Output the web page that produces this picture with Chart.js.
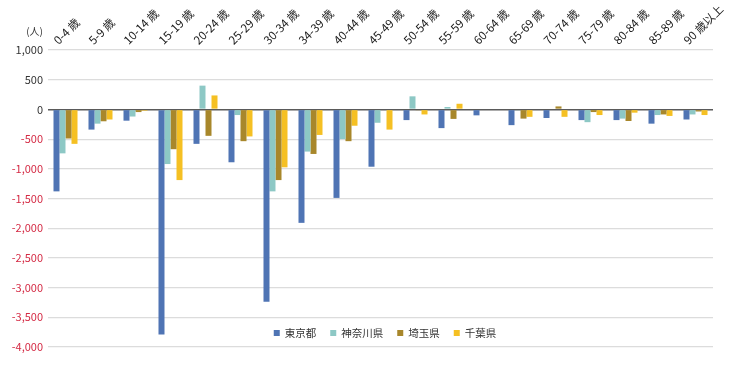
<!DOCTYPE html>
<html>
<head>
<meta charset="utf-8">
<script src="https://cdn.jsdelivr.net/npm/chart.js@4/dist/chart.umd.min.js"></script>
<style>
  body { margin: 0; background: #fff; }
  #wrap { width: 750px; height: 372px; }
</style>
</head>
<body>
<div id="wrap"><canvas id="grafico" width="750" height="372"></canvas></div>
<script>
// categorias (edad)
var edades = ["0-4 歳", "5-9 歳", "10-14 歳", "15-19 歳", "20-24 歳", "25-29 歳", "30-34 歳", "34-39 歳", "40-44 歳", "45-49 歳",
    "50-54 歳", "55-59 歳", "60-64 歳", "65-69 歳", "70-74 歳", "75-79 歳", "80-84 歳", "85-89 歳", "90 歳以上"];

var tokyo = [-1380, -340, -190, -3790, -580, -890, -3240, -1910, -1490, -965, -180, -315, -100, -265, -145, -180, -180, -240, -170];
var kanagawa = [-740, -240, -120, -920, 400, -95, -1380, -710, -500, -225, 220, 40, 0, -10, 0, -215, -155, -95, -85];
var saitama = [-490, -200, -45, -670, -445, -535, -1190, -750, -535, 0, -15, -160, 0, -155, 50, -45, -195, -85, -35];
var chiba = [-580, -170, -22, -1190, 235, -455, -975, -430, -275, -340, -85, 95, 0, -125, -125, -95, -55, -110, -95];

var nombres = ["東京都", "神奈川県", "埼玉県", "千葉県"];
var colores = ["#4f74b4", "#8dc8c5", "#a8872b", "#f5c023"];

var fuente = "'Noto Sans CJK JP', 'Noto Sans', sans-serif";

// leyenda dentro del area del grafico
var leyenda = {
    id: "leyenda",
    afterDraw: function (chart) {
        var ctx = chart.ctx;
        ctx.save();
        ctx.font = "10.5px " + fuente;
        ctx.textBaseline = "middle";
        var anchos = [];
        var total = 0;
        chart.data.datasets.forEach(function (ds, i) {
            var w = 6 + 5 + ctx.measureText(ds.label).width;
            anchos.push(w);
            total += w + (i > 0 ? 14 : 0);
        });
        var x = 385 - total / 2;
        var y = 333;
        chart.data.datasets.forEach(function (ds, i) {
            ctx.fillStyle = ds.backgroundColor;
            ctx.fillRect(x, y - 3, 6, 6);
            ctx.fillStyle = "#333";
            ctx.fillText(ds.label, x + 11, y);
            x += anchos[i] + 14;
        });
        // unidad
        ctx.font = "10px " + fuente;
        ctx.textAlign = "right";
        ctx.fillStyle = "#333";
        ctx.fillText("(人)", 43, 31);
        ctx.restore();
    }
};

var series = [tokyo, kanagawa, saitama, chiba];
var datasets = [];
for (var i = 0; i < series.length; i++) {
    datasets.push({
        label: nombres[i],
        data: series[i],
        backgroundColor: colores[i],
        borderWidth: 0,
        barPercentage: 1.0,
        categoryPercentage: 0.686
    });
}

var ctxB = document.getElementById("grafico").getContext("2d");
var miGrafico = new Chart(ctxB, {
    type: "bar",
    data: {
        labels: edades,
        datasets: datasets
    },
    options: {
        responsive: false,
        animation: false,
        layout: {
            padding: { left: 0, right: 37, top: 0, bottom: 25 }
        },
        plugins: {
            legend: { display: false },
            tooltip: { enabled: false }
        },
        scales: {
            x: {
                position: "top",
                grid: { display: false, drawTicks: false },
                border: { display: false },
                afterFit: function (s) { s.height = 50; },
                ticks: {
                    autoSkip: false,
                    minRotation: 45,
                    maxRotation: 45,
                    padding: 3,
                    color: "#1a1a1a",
                    font: { family: fuente, size: 11.5 }
                }
            },
            y: {
                min: -4000,
                max: 1000,
                afterFit: function (s) { s.width = 48; },
                border: { display: false },
                grid: {
                    drawTicks: false,
                    color: function (c) { return c.tick && c.tick.value === 0 ? "#5a5a5a" : "#dcdcdc"; },
                    lineWidth: function (c) { return c.tick && c.tick.value === 0 ? 1.5 : 1.2; }
                },
                ticks: {
                    stepSize: 500,
                    padding: 5,
                    font: { family: fuente, size: 11 },
                    color: function (c) { return c.tick.value < 0 ? "#d42a44" : "#333"; }
                }
            }
        }
    },
    plugins: [leyenda]
});
</script>
</body>
</html>
